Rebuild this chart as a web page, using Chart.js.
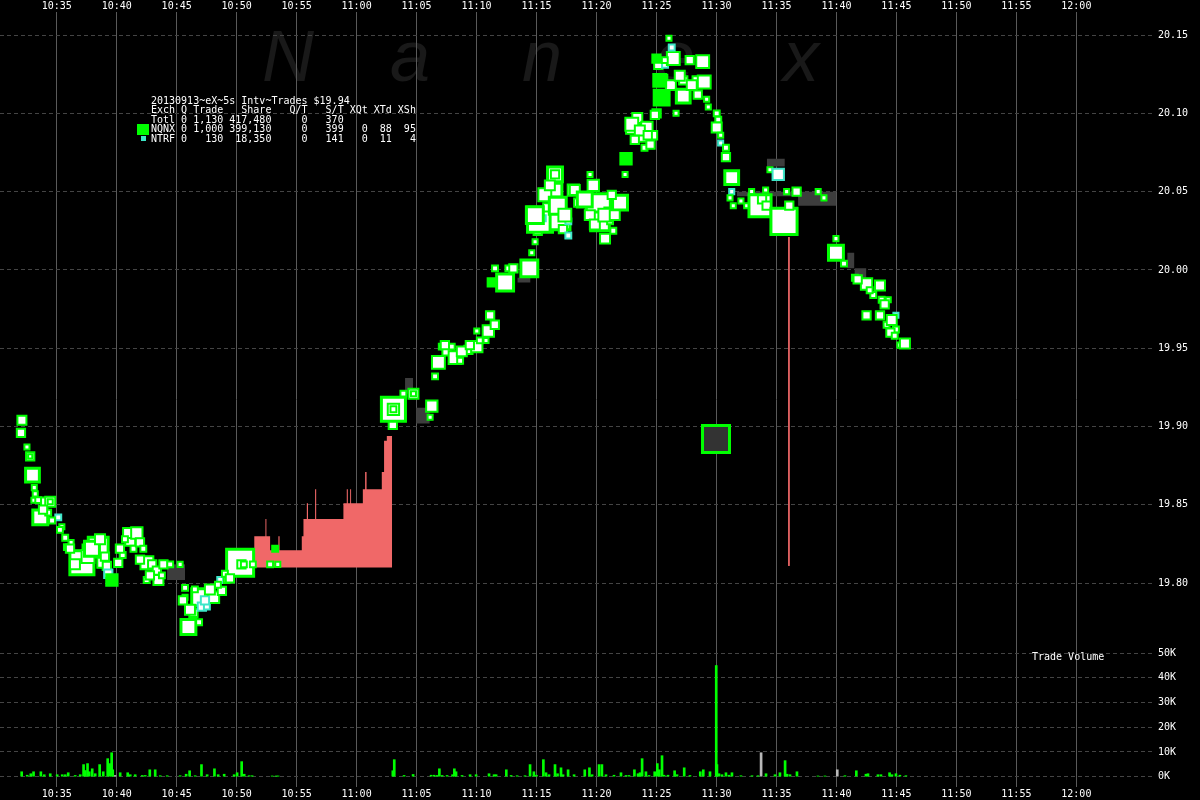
<!DOCTYPE html>
<html>
<head>
<meta charset="utf-8">
<script src="https://cdn.jsdelivr.net/npm/chart.js@4.4.1/dist/chart.umd.min.js"></script>
<style>
  html, body { margin: 0; padding: 0; background: #000; }
  #wrap { width: 1200px; height: 800px; }
</style>
</head>
<body>
<div id="wrap"><canvas id="chart" width="1200" height="800"></canvas></div>
<script>
// Times are minutes after 10:30, prices in $, volume in thousands of shares

const timeTicks = [5, 10, 15, 20, 25, 30, 35, 40, 45, 50, 55, 60, 65, 70, 75, 80, 85, 90];
const priceTicks = [19.80, 19.85, 19.90, 19.95, 20.00, 20.05, 20.10, 20.15];
const volumeTicks = [0, 10, 20, 30, 40, 50];

// Trades: N = NQNX, T = NTRF, G = solid green, D = dark block
const tradeTimes = [
  2.10, 2.02, 2.52, 2.79, 2.79, 2.98, 3.13, 3.21, 3.10, 3.46, 4.04, 4.46, 4.46, 3.63, 4.29, 5.13,
  5.43, 5.71, 5.85, 6.20, 6.50, 6.80, 7.50, 7.10, 8.46, 8.80, 9.18, 9.30, 9.60, 10.13, 10.50, 11.13,
  10.95, 11.68, 11.40, 11.94, 12.22, 12.52, 12.96, 13.35, 13.48, 12.50, 13.90, 14.46, 15.29, 15.70,
  15.70, 15.98, 16.40, 16.96, 17.10, 16.87, 17.52, 18.07, 18.63, 18.77, 19.18, 20.29, 20.40, 20.60,
  21.35, 22.79, 23.43, 23.21,
  33.02, 33.07, 33.07, 33.07, 33.90, 34.74, 34.74, 36.27, 36.13, 36.54, 36.82, 37.10, 37.50, 37.93,
  38.21, 38.63, 39.32, 40.02, 40.79, 40.98, 40.02, 41.13, 41.27, 41.54, 42.38, 42.65, 43.07, 44.40,
  44.60, 44.88, 45.10, 45.29, 45.52, 45.90, 46.54, 46.54, 46.54, 46.96, 47.20, 47.65, 47.65, 48.07,
  48.48, 49.46, 49.73, 50.15, 50.29, 50.90, 50.71, 51.13, 51.40, 51.96, 52.38, 52.46,
  53.00, 53.40, 53.80, 54.00, 54.20, 54.50, 54.71, 55.01, 55.43, 55.43, 55.15, 55.00, 55.71, 56.20,
  56.63, 56.40, 56.04, 56.27, 57.23, 57.23, 58.35, 58.85, 58.98, 59.18, 59.32, 60.02, 60.15, 60.02,
  60.35, 60.35, 60.79, 60.79, 61.27, 61.27, 61.13, 61.40, 62.04, 62.52, 62.93, 63.63, 63.80, 64.10,
  64.18, 64.46, 65.15, 65.63, 65.85, 66.07, 66.68, 68.48, 68.96, 59.96,
  69.96, 69.96, 70.63, 71.54, 72.51, 73.63, 73.07, 73.77, 74.32, 72.51, 73.63, 74.18, 74.96, 74.96,
  74.50, 75.29, 75.71,
  // busier clusters
  3.86, 4.61, 5.27, 6.11, 6.52, 7.61, 7.94, 8.61, 9.02, 10.27, 10.69, 11.94, 12.77, 13.77,
  15.52, 16.11, 16.52, 17.36, 17.77, 18.44, 19.02, 19.44,
  37.36, 38.77, 39.44, 40.27, 41.52,
  44.86, 45.69, 46.11, 46.77, 47.36, 48.19, 49.02, 49.44, 49.86, 50.69, 51.52, 51.27,
  52.94, 53.61, 54.27, 53.19, 54.86, 55.27, 55.69, 56.94, 57.77, 57.94, 58.44,
  71.77, 72.77, 74.02, 74.61, 74.86
];
const tradePrices = [
  19.904, 19.896, 19.887, 19.881, 19.881, 19.869, 19.861, 19.857, 19.853, 19.853, 19.852, 19.852, 19.852, 19.842, 19.845, 19.842,
  19.836, 19.829, 19.823, 19.826, 19.818, 19.817, 19.822, 19.813, 19.823, 19.813, 19.811, 19.806, 19.802, 19.813, 19.818, 19.827,
  19.832, 19.832, 19.822, 19.826, 19.822, 19.813, 19.812, 19.808, 19.802, 19.802, 19.812, 19.812, 19.812, 19.797,
  19.791, 19.772, 19.781, 19.791, 19.785, 19.775, 19.785, 19.791, 19.802, 19.795, 19.802, 19.813, 19.812, 19.812,
  19.812, 19.812, 19.812, 19.822,
  19.901, 19.911, 19.911, 19.911, 19.921, 19.921, 19.921, 19.913, 19.906, 19.932, 19.941, 19.951, 19.948, 19.951,
  19.944, 19.942, 19.949, 19.951, 19.955, 19.961, 19.961, 19.971, 19.992, 20.001, 19.992, 20.001, 20.001, 20.001,
  20.011, 20.018, 20.025, 20.032, 20.033, 20.040, 20.061, 20.061, 20.051, 20.032, 20.026, 20.031, 20.022, 20.051,
  20.043, 20.061, 20.054, 20.041, 20.031, 20.038, 20.020, 20.031, 20.025, 20.043, 20.061, 20.071,
  20.091, 20.097, 20.085, 20.078, 20.091, 20.080, 20.086, 20.100, 20.110, 20.121, 20.131, 20.135, 20.131, 20.118,
  20.100, 20.135, 20.148, 20.142, 20.111, 20.121, 20.121, 20.133, 20.120, 20.109, 20.104, 20.100, 20.096, 20.091,
  20.086, 20.081, 20.078, 20.072, 20.059, 20.050, 20.046, 20.041, 20.044, 20.041, 20.050, 20.041, 20.045, 20.051,
  20.041, 20.064, 20.061, 20.031, 20.050, 20.041, 20.050, 20.050, 20.046, 19.892,
  20.020, 20.011, 20.004, 19.995, 19.991, 19.990, 19.984, 19.981, 19.981, 19.971, 19.971, 19.965, 19.971, 19.962,
  19.960, 19.952, 19.953,
  19.847, 19.840, 19.834, 19.822, 19.812, 19.817, 19.822, 19.828, 19.817, 19.822, 19.828, 19.815, 19.805, 19.805,
  19.789, 19.783, 19.796, 19.789, 19.796, 19.799, 19.806, 19.803,
  19.952, 19.948, 19.952, 19.955, 19.965,
  20.035, 20.048, 20.054, 20.041, 20.035, 20.051, 20.045, 20.035, 20.029, 20.035, 20.035, 20.048,
  20.093, 20.089, 20.086, 20.083, 20.099, 20.121, 20.134, 20.124, 20.134, 20.118, 20.112,
  19.994, 19.987, 19.978, 19.968, 19.958
];
const tradeShares = [
  2600, 2000, 300, 2000, 100, 10000, 300, 300, 300, 600, 2000, 3500, 300, 12000, 600, 600,
  300, 600, 600, 300, 2000, 600, 2000, 35000, 23000, 3500, 2000, 2000, 5000, 2000, 600, 3500,
  3500, 5000, 600, 2000, 600, 7000, 2000, 2000, 3500, 600, 2000, 600, 300, 600,
  300, 12000, 2000, 16000, 2000, 600, 600, 5000, 600, 2000, 600, 45000, 2000, 600,
  600, 600, 300, 600,
  2000, 35000, 5000, 600, 600, 3500, 300, 5000, 300, 600, 7000, 600, 2000, 600,
  7000, 600, 2000, 5000, 300, 5000, 300, 2000, 2000, 600, 16000, 600, 2000, 16000,
  300, 300, 2000, 38000, 600, 2000, 12000, 2000, 10000, 23000, 2000, 600, 600, 5000,
  2000, 300, 5000, 35000, 20000, 600, 3500, 600, 600, 12000, 300, 5000,
  7000, 3500, 3500, 600, 5000, 2000, 2000, 2000, 12000, 5000, 2000, 2000, 600, 3500,
  300, 7000, 300, 600, 10000, 2000, 2000, 7000, 7000, 300, 300, 600, 600, 3500,
  300, 300, 600, 2000, 10000, 300, 300, 300, 300, 300, 300, 29000, 2000, 300,
  2000, 300, 5000, 42000, 300, 2000, 2000, 300, 300, 45000,
  300, 12000, 600, 600, 5000, 3500, 600, 600, 300, 2000, 2000, 600, 300, 600,
  2000, 300, 3500,
  2000, 600, 600, 2000, 3500, 7000, 12000, 3500, 2000, 2000, 600, 2000, 2000, 600,
  2000, 3500, 600, 2000, 3500, 600, 600, 2000,
  2000, 3500, 2000, 600, 2000,
  16000, 7000, 3500, 16000, 7000, 3500, 12000, 3500, 3500, 7000, 3500, 2000,
  7000, 3500, 2000, 2000, 2000, 7000, 600, 3500, 2000, 3500, 2000,
  2000, 600, 2000, 3500, 600
];
const tradeKinds = [
  'N', 'N', 'N', 'N', 'N', 'N', 'N', 'N', 'N', 'N', 'N', 'N', 'N', 'N', 'N', 'T',
  'N', 'N', 'N', 'N', 'N', 'N', 'N', 'N', 'N', 'N', 'N', 'T', 'G', 'N', 'N', 'N',
  'N', 'N', 'N', 'N', 'N', 'N', 'N', 'N', 'N', 'N', 'N', 'N', 'N', 'N',
  'N', 'N', 'N', 'N', 'T', 'N', 'T', 'N', 'T', 'N', 'N', 'N', 'N', 'N',
  'N', 'N', 'N', 'G',
  'N', 'N', 'N', 'N', 'N', 'N', 'N', 'N', 'N', 'N', 'N', 'N', 'N', 'N',
  'N', 'N', 'N', 'N', 'N', 'N', 'N', 'N', 'G', 'N', 'N', 'N', 'N', 'N',
  'N', 'N', 'N', 'N', 'T', 'N', 'N', 'N', 'N', 'N', 'N', 'T', 'T', 'N',
  'N', 'N', 'N', 'N', 'N', 'N', 'N', 'N', 'N', 'N', 'N', 'G',
  'N', 'N', 'N', 'N', 'N', 'N', 'N', 'N', 'G', 'G', 'N', 'G', 'T', 'N',
  'N', 'N', 'N', 'T', 'N', 'N', 'N', 'N', 'N', 'N', 'N', 'N', 'N', 'N',
  'N', 'T', 'N', 'N', 'N', 'T', 'N', 'N', 'N', 'N', 'N', 'N', 'N', 'N',
  'N', 'N', 'T', 'N', 'N', 'N', 'N', 'N', 'N', 'D',
  'N', 'N', 'N', 'N', 'N', 'N', 'N', 'N', 'N', 'N', 'N', 'N', 'T', 'N',
  'N', 'N', 'N',
  'N', 'N', 'N', 'N', 'N', 'N', 'N', 'N', 'N', 'N', 'N', 'N', 'N', 'N',
  'N', 'N', 'N', 'T', 'N', 'N', 'N', 'N',
  'N', 'N', 'N', 'N', 'N',
  'N', 'N', 'N', 'N', 'N', 'N', 'N', 'N', 'N', 'N', 'N', 'N',
  'N', 'N', 'N', 'N', 'N', 'G', 'N', 'N', 'N', 'N', 'N',
  'N', 'N', 'N', 'N', 'N'
];

// Red shaded area (step tops above $19.81 base)
const redTimes = [21.46, 22.40, 22.48, 22.79, 23.48, 23.58, 25.43, 25.57, 25.85, 25.95, 26.54, 26.63,
  28.90, 29.18, 29.27, 29.46, 29.54, 30.52, 30.71, 30.83, 32.10, 32.29, 32.52, 32.96];
const redTops = [19.830, 19.841, 19.830, 19.821, 19.830, 19.821, 19.830, 19.841, 19.851, 19.841, 19.860, 19.841,
  19.851, 19.860, 19.851, 19.860, 19.851, 19.860, 19.871, 19.860, 19.871, 19.891, 19.894, 19.810];
const redBase = 19.81;
const redLineTime = 66.04;
const redLineRange = [20.021, 19.811];

// Dark gray blocks
const grayStart = [14.2, 34.04, 34.96, 43.4, 61.7, 64.2, 66.8, 70.9, 71.5];
const grayEnd = [15.7, 34.7, 36.1, 44.5, 66.96, 65.7, 70.0, 71.5, 72.5];
const grayLow = [19.802, 19.921, 19.902, 19.992, 20.047, 20.066, 20.041, 20.001, 19.995];
const grayHigh = [19.812, 19.931, 19.912, 19.995, 20.050, 20.071, 20.050, 20.011, 20.001];

// Trade volume (K shares)
const volTimes = [
  2.08, 2.54, 2.84, 3.07, 3.68, 3.96, 4.46, 5.04, 5.46, 5.71, 5.96, 6.54, 6.96, 7.24, 7.38, 7.57,
  7.71, 7.96, 8.21, 8.58, 8.88, 9.25, 9.42, 9.58, 9.67, 10.29, 10.92, 11.13, 11.54, 12.13, 12.38, 12.76,
  13.21, 13.63, 14.21, 15.29, 15.79, 16.08, 16.54, 17.07, 17.54, 18.15, 18.46, 18.96, 19.79, 20.04,
  20.42, 20.63, 21.04, 21.29, 22.96, 23.29, 23.46,
  33.02, 33.14, 33.96, 34.71, 36.21, 36.46, 36.71, 36.90, 37.13, 37.54, 38.00, 38.15, 38.29, 38.79,
  39.46, 39.96, 41.04, 41.46, 41.63, 42.48, 42.88, 43.38, 44.04, 44.46, 44.78, 44.99, 45.57, 45.79,
  46.04, 46.54, 46.75, 47.04, 47.21, 47.63, 48.13, 49.02, 49.41, 49.63, 50.21, 50.45, 50.79, 51.46,
  52.04, 52.46, 52.71, 53.16, 53.46, 53.63, 53.80, 54.12, 54.38, 54.85, 55.07, 55.23, 55.46, 55.63,
  55.96, 56.51, 56.71, 57.31, 57.79, 58.65, 58.90, 59.46, 59.98, 60.04, 60.21, 60.46, 60.79, 61.04,
  61.29, 62.04, 62.96, 63.46, 64.13, 64.88, 65.29, 65.72, 65.88, 66.13, 66.71, 68.46, 69.04, 70.71,
  71.66, 72.46, 72.63, 73.46, 73.71, 74.43, 74.63, 74.96, 75.29, 75.79
];
const volValues = [
  2.0, 0.6, 1.2, 2.0, 2.0, 0.8, 1.2, 0.8, 0.8, 0.8, 1.6, 0.5, 0.8, 4.9, 2.5, 5.3,
  2.0, 3.2, 1.2, 4.9, 2.0, 7.3, 5.3, 9.7, 2.8, 1.6, 1.6, 0.8, 0.8, 0.5, 0.5, 2.8,
  2.8, 0.4, 0.4, 0.4, 1.0, 2.4, 0.4, 4.9, 0.8, 3.2, 0.8, 1.0, 0.8, 1.6,
  6.1, 1.0, 0.4, 0.4, 0.3, 0.3, 0.3,
  2.4, 6.9, 0.5, 0.9, 0.6, 0.6, 0.5, 3.2, 0.5, 0.5, 0.8, 3.2, 2.0, 0.5,
  0.8, 0.8, 1.2, 0.8, 0.8, 2.8, 0.5, 0.4, 0.4, 4.9, 2.0, 0.6, 6.9, 1.6,
  0.8, 4.9, 1.2, 3.6, 0.8, 2.8, 0.8, 2.8, 3.6, 0.8, 4.9, 4.9, 0.8, 0.6,
  1.6, 0.5, 0.5, 2.8, 1.2, 1.6, 7.3, 2.0, 0.5, 2.0, 5.3, 2.8, 8.5, 0.6,
  0.6, 2.4, 0.8, 3.6, 0.5, 2.0, 2.8, 2.0, 45.0, 4.9, 1.2, 0.8, 1.6, 0.6,
  1.6, 0.4, 0.4, 0.4, 1.2, 0.8, 1.6, 6.5, 1.0, 0.8, 2.0, 0.3, 0.3, 0.4,
  2.4, 1.0, 1.2, 0.8, 0.8, 1.6, 0.8, 1.2, 0.6, 0.4
];
const volOtherTimes = [9.86, 63.72, 70.07];
const volOtherValues = [0.5, 9.7, 2.8];

const legendLines = [
  '20130913~eX~5s Intv~Trades $19.94',
  'Exch Q Trade   Share   Q/T   S/T XQt XTd XSh',
  'Totl 0 1,130 417,480     0   370',
  'NQNX 0 1,000 399,130     0   399   0  88  95',
  'NTRF 0   130  18,350     0   141   0  11   4'
];

const GREEN = '#00ff00';
const CYAN = '#3ce6c8';
const RED = '#f06868';
const MONO = '"DejaVu Sans Mono", monospace';

const fillFor = { N: '#ffffff', T: '#ffffff', G: GREEN, D: '#333333' };
const edgeFor = { N: GREEN, T: CYAN, G: GREEN, D: GREEN };

// box side in px grows with trade size
function boxSide(shares) {
  return 5 + 25 * Math.sqrt(Math.min(shares, 45000) / 45000);
}
function edgeWidth(i) {
  return boxSide(tradeShares[i]) >= 15 ? 3 : 2;
}

function fmtTime(v) {
  const m = 630 + Math.round(v);
  return Math.floor(m / 60) + ':' + String(m % 60).padStart(2, '0');
}

// no label overhang padding, fixed axis sizes
function fixBox(size, horizontal) {
  return s => {
    if (horizontal) s.height = size; else s.width = size;
    s.paddingLeft = 0; s.paddingRight = 0; s.paddingTop = 0; s.paddingBottom = 0;
  };
}

const tickFont = { family: MONO, size: 10 };

// background, watermark, legend block, panel title
const decor = {
  id: 'decor',
  beforeDraw(chart) {
    const ctx = chart.ctx;
    ctx.save();
    ctx.fillStyle = '#000';
    ctx.fillRect(0, 0, chart.width, chart.height);
    ctx.fillStyle = '#191919';
    ctx.font = 'italic 72px "Liberation Sans", sans-serif';
    ctx.textBaseline = 'alphabetic';
    const letters = ['N', 'a', 'n', 'e', 'x'];
    const xs = [262, 390, 522, 655, 783];
    letters.forEach((l, i) => ctx.fillText(l, xs[i], 81));
    ctx.restore();
  },
  afterDraw(chart) {
    const ctx = chart.ctx;
    ctx.save();
    ctx.font = '10px ' + MONO;
    ctx.fillStyle = '#ffffff';
    ctx.textBaseline = 'middle';
    legendLines.forEach((line, i) => ctx.fillText(line, 151, 101 + i * 9.6));
    ctx.fillText('Trade Volume', 1032, 657);
    ctx.fillStyle = GREEN;
    ctx.fillRect(137, 124, 12, 11);
    ctx.fillStyle = CYAN;
    ctx.fillRect(141, 136, 5, 5);
    ctx.restore();
  }
};

const datasets = [];

datasets.push({
  type: 'scatter',
  order: 0,
  data: tradeTimes.map((t, i) => ({ x: t, y: tradePrices[i] })),
  pointStyle: 'rect',
  pointRadius: ctx => (boxSide(tradeShares[ctx.dataIndex]) - edgeWidth(ctx.dataIndex)) / Math.SQRT2,
  pointBorderWidth: ctx => edgeWidth(ctx.dataIndex),
  pointBackgroundColor: ctx => fillFor[tradeKinds[ctx.dataIndex]],
  pointBorderColor: ctx => edgeFor[tradeKinds[ctx.dataIndex]],
  showLine: false
});

datasets.push({
  type: 'line',
  order: 1,
  data: [{ x: redLineTime, y: redLineRange[0] }, { x: redLineTime, y: redLineRange[1] }],
  borderColor: RED,
  borderWidth: 1,
  pointRadius: 0,
  fill: false
});

grayStart.forEach((t0, i) => {
  datasets.push({
    type: 'line',
    order: 2,
    data: [{ x: t0, y: grayHigh[i] }, { x: grayEnd[i], y: grayHigh[i] }],
    borderWidth: 0,
    pointRadius: 0,
    backgroundColor: '#3d3d3d',
    fill: { value: grayLow[i] }
  });
});

datasets.push({
  type: 'line',
  order: 3,
  data: redTimes.map((t, i) => ({ x: t, y: redTops[i] })),
  stepped: true,
  borderWidth: 0,
  pointRadius: 0,
  backgroundColor: RED,
  fill: { value: redBase }
});

datasets.push({
  type: 'bar',
  order: 4,
  yAxisID: 'vol',
  grouped: false,
  barThickness: 2,
  data: volTimes.map((t, i) => ({ x: t, y: volValues[i] })),
  backgroundColor: GREEN
});

datasets.push({
  type: 'bar',
  order: 4,
  yAxisID: 'vol',
  grouped: false,
  barThickness: 2,
  data: volOtherTimes.map((t, i) => ({ x: t, y: volOtherValues[i] })),
  backgroundColor: '#b8b8b8'
});

const xMin = 0.273;
const xMax = 96.39;

new Chart(document.getElementById('chart'), {
  type: 'scatter',
  data: { datasets: datasets },
  options: {
    responsive: false,
    animation: false,
    devicePixelRatio: 1,
    events: [],
    layout: { padding: 0, autoPadding: false },
    plugins: { legend: { display: false }, tooltip: { enabled: false } },
    scales: {
      x: {
        type: 'linear', position: 'bottom', min: xMin, max: xMax, offset: false,
        afterBuildTicks: s => { s.ticks = timeTicks.map(v => ({ value: v })); },
        afterFit: fixBox(13, true),
        grid: { color: '#5a5a5a', lineWidth: 1, drawTicks: false, offset: false },
        border: { display: false },
        ticks: { color: '#ffffff', font: tickFont, padding: 1, maxRotation: 0, autoSkip: false, callback: v => fmtTime(v) }
      },
      xTop: {
        type: 'linear', position: 'top', min: xMin, max: xMax, offset: false,
        afterBuildTicks: s => { s.ticks = timeTicks.map(v => ({ value: v })); },
        afterFit: fixBox(12, true),
        grid: { display: false, drawTicks: false, offset: false },
        border: { display: false },
        ticks: { color: '#ffffff', font: tickFont, padding: 0, maxRotation: 0, autoSkip: false, callback: v => fmtTime(v) }
      },
      y: {
        type: 'linear', position: 'right', stack: 'right', stackWeight: 628,
        min: 19.7637, max: 20.1647,
        afterBuildTicks: s => { s.ticks = priceTicks.map(v => ({ value: v })); },
        afterFit: fixBox(47, false),
        grid: { color: '#444444', lineWidth: 1, drawTicks: false },
        border: { display: false, dash: [4, 3] },
        ticks: { color: '#ffffff', font: tickFont, padding: 5, callback: v => v.toFixed(2) }
      },
      vol: {
        type: 'linear', position: 'right', stack: 'right', stackWeight: 147,
        min: -4.17, max: 55.34,
        afterBuildTicks: s => { s.ticks = volumeTicks.map(v => ({ value: v })); },
        afterFit: fixBox(47, false),
        grid: { color: '#444444', lineWidth: 1, drawTicks: false },
        border: { display: false, dash: [4, 3] },
        ticks: { color: '#ffffff', font: tickFont, padding: 5, callback: v => v + 'K' }
      }
    }
  },
  plugins: [decor]
});
</script>
</body>
</html>
